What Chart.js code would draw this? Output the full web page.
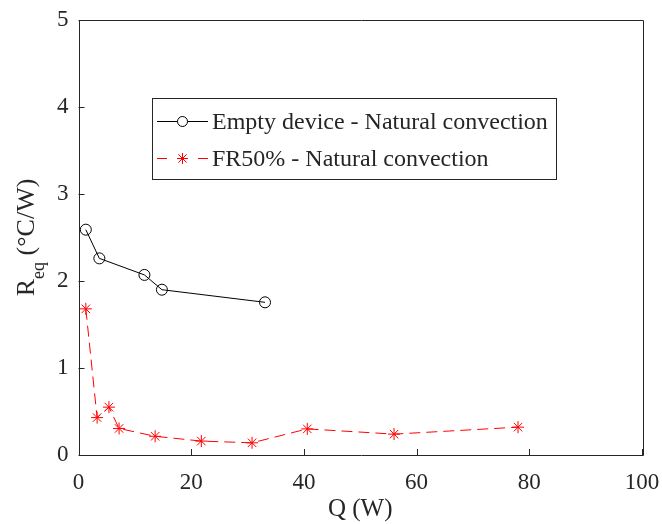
<!DOCTYPE html>
<html>
<head>
<meta charset="utf-8">
<script src="https://cdn.jsdelivr.net/npm/chart.js@4.4.1/dist/chart.umd.min.js"></script>
<style>
html,body{margin:0;padding:0;background:#fff;}
canvas{display:block;}
</style>
</head>
<body>
<canvas id="c" width="662" height="524"></canvas>
<script>
// ---- data ----
const emptyQ = [1.3, 3.7, 11.7, 14.8, 33.1];
const emptyR = [2.59, 2.26, 2.07, 1.90, 1.755];
const frQ = [1.3, 3.3, 5.4, 7.2, 13.6, 21.8, 30.8, 40.6, 56.0, 78.0];
const frR = [1.68, 0.43, 0.55, 0.305, 0.215, 0.16, 0.14, 0.30, 0.24, 0.32];
const seriesLabels = ['Empty device - Natural convection', 'FR50% - Natural convection'];
const xTicks = [0, 20, 40, 60, 80, 100];
const yTicks = [0, 1, 2, 3, 4, 5];
const xTitle = 'Q (W)';
const yTitleMain = 'R';
const yTitleSub = 'eq';
const yTitleRest = ' (°C/W)';

const FONT = "'Liberation Serif', 'Times New Roman', serif";
const TXT = '#262626';

function toPts(xs, ys){ return xs.map((x,i)=>({x:x, y:ys[i]})); }

const framePlugin = {
  id: 'frame',
  afterDraw(chart){
    const ctx = chart.ctx, a = chart.chartArea;
    const xs = chart.scales.x, ys = chart.scales.y;
    ctx.save();
    ctx.strokeStyle = '#262626';
    ctx.lineWidth = 1;
    ctx.beginPath();
    ctx.rect(Math.round(a.left)+0.5, Math.round(a.top)+0.5, Math.round(a.right-a.left), Math.round(a.bottom-a.top));
    ctx.stroke();
    // inward ticks
    const tl = 6;
    ctx.beginPath();
    xTicks.forEach(v=>{
      const px = Math.round(xs.getPixelForValue(v))+0.5;
      ctx.moveTo(px, a.bottom); ctx.lineTo(px, a.bottom - tl);
    });
    yTicks.forEach(v=>{
      const py = Math.round(ys.getPixelForValue(v))+0.5;
      ctx.moveTo(a.left, py); ctx.lineTo(a.left + tl, py);
    });
    ctx.stroke();
    // y title with subscript
    const cy = (a.top + a.bottom)/2;
    ctx.fillStyle = TXT;
    ctx.translate(34, cy);
    ctx.rotate(-Math.PI/2);
    const mainF = "26px " + FONT, subF = "18px " + FONT;
    ctx.font = mainF; const w1 = ctx.measureText(yTitleMain).width;
    const w3 = ctx.measureText(yTitleRest).width;
    ctx.font = subF; const w2 = ctx.measureText(yTitleSub).width;
    let x0 = -(w1+w2+w3)/2;
    ctx.textBaseline = 'alphabetic';
    ctx.textAlign = 'left';
    ctx.font = mainF; ctx.fillText(yTitleMain, x0, 0);
    ctx.font = subF; ctx.fillText(yTitleSub, x0 + w1, 10);
    ctx.font = mainF; ctx.fillText(yTitleRest, x0 + w1 + w2, 0);
    ctx.restore();

    // legend box
    ctx.save();
    const L = 152.5, T = 98.5, W = 404, H = 81;
    ctx.fillStyle = '#fff';
    ctx.fillRect(L, T, W, H);
    ctx.strokeStyle = '#262626';
    ctx.lineWidth = 1;
    ctx.strokeRect(L, T, W, H);
    const rowsY = [121.5, 158.5];
    chart.data.datasets.forEach((ds, i)=>{
      const y = rowsY[i];
      ctx.strokeStyle = ds.borderColor;
      ctx.lineWidth = 1;
      ctx.beginPath();
      if (ds.borderDash && ds.borderDash.length){
        ctx.moveTo(157, y); ctx.lineTo(167, y);
        ctx.moveTo(198, y); ctx.lineTo(208, y);
      } else {
        ctx.moveTo(157, y); ctx.lineTo(208, y);
      }
      ctx.stroke();
      if (ds.pointStyle === 'circle'){
        ctx.fillStyle = '#fff';
        ctx.beginPath(); ctx.arc(182.5, y, 5, 0, Math.PI*2); ctx.fill(); ctx.stroke();
      } else {
        Chart.helpers.drawPoint(ctx, {pointStyle:'star', radius:5.5, borderWidth:1}, 182.5, y);
        ctx.stroke();
      }
      ctx.fillStyle = TXT;
      ctx.font = "24px " + FONT;
      ctx.textBaseline = 'middle';
      ctx.textAlign = 'left';
      ctx.fillText(seriesLabels[i], 212, y + 1);
    });
    ctx.restore();
  }
};

new Chart(document.getElementById('c'), {
  type: 'scatter',
  data: {
    datasets: [
      {
        label: seriesLabels[0],
        data: toPts(emptyQ, emptyR),
        showLine: true,
        borderColor: '#000000',
        backgroundColor: 'rgba(0,0,0,0)',
        borderWidth: 1,
        pointStyle: 'circle',
        pointRadius: 5.5,
        pointBorderWidth: 1,
        pointBorderColor: '#000000',
        pointBackgroundColor: 'rgba(0,0,0,0)'
      },
      {
        label: seriesLabels[1],
        data: toPts(frQ, frR),
        showLine: true,
        borderColor: '#ff0000',
        backgroundColor: '#ff0000',
        borderWidth: 1,
        borderDash: [11, 6],
        pointStyle: 'star',
        pointRadius: 6,
        pointBorderWidth: 1,
        pointBorderColor: '#ff0000'
      }
    ]
  },
  options: {
    responsive: false,
    animation: false,
    layout: { padding: { top: 20, right: 20, left: 0, bottom: 0 } },
    plugins: { legend: { display: false }, tooltip: { enabled: false } },
    scales: {
      x: {
        type: 'linear', min: 0, max: 100,
        afterBuildTicks(s){ s.ticks = xTicks.map(v=>({value:v})); },
        afterFit(s){ s.height = 69; s.paddingLeft = 0; s.paddingRight = 0; },
        grid: { display: false, drawTicks: false },
        border: { display: false },
        ticks: { color: TXT, font: { family: FONT, size: 23 }, padding: 14, maxRotation: 0 },
        title: { display: true, text: xTitle, color: TXT, font: { family: FONT, size: 25 }, padding: { top: 0, bottom: 0 } }
      },
      y: {
        type: 'linear', min: 0, max: 5,
        afterBuildTicks(s){ s.ticks = yTicks.map(v=>({value:v})); },
        afterFit(s){ s.width = 78.5; s.paddingTop = 0; s.paddingBottom = 0; },
        grid: { display: false, drawTicks: false },
        border: { display: false },
        ticks: { color: TXT, font: { family: FONT, size: 23 }, padding: 10 }
      }
    }
  },
  plugins: [framePlugin]
});
</script>
</body>
</html>
